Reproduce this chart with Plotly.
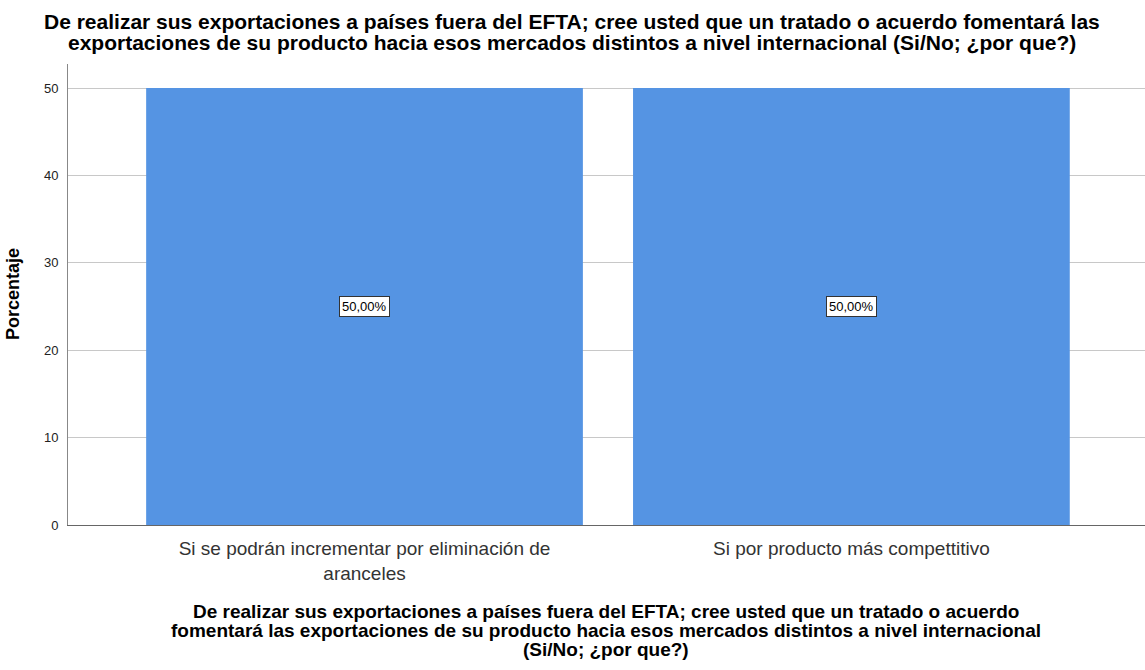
import plotly.graph_objects as go

categories = ["Si se podrán incrementar por eliminación de<br>aranceles",
              "Si por producto más compettitivo"]
values = [50.0, 50.0]
labels = ["50,00%", "50,00%"]
y_ticks = [0, 10, 20, 30, 40, 50]

title_lines = ["De realizar sus exportaciones a países fuera del EFTA; cree usted que un tratado o acuerdo fomentará las",
               "exportaciones de su producto hacia esos mercados distintos a nivel internacional (Si/No; ¿por que?)"]
xtitle_lines = ["De realizar sus exportaciones a países fuera del EFTA; cree usted que un tratado o acuerdo",
                "fomentará las exportaciones de su producto hacia esos mercados distintos a nivel internacional",
                "(Si/No; ¿por que?)"]

FONT = "Liberation Sans, Arial, sans-serif"
TOP, BOTTOM, LEFT, W = 64, 525, 68, 1145
PH = BOTTOM - TOP
PW = W - LEFT


def py(pix):
    return (BOTTOM - pix) / PH


def px(pix):
    return (pix - LEFT) / PW


fig = go.Figure()
fig.add_trace(go.Bar(
    x=categories, y=values, width=0.897,
    marker=dict(color="#5594E3", line=dict(width=0)),
    hoverinfo="skip",
))

for c, v, t in zip(categories, values, labels):
    fig.add_annotation(x=c, y=v / 2, text=t, showarrow=False,
                       font=dict(family=FONT, size=13, color="black"),
                       bgcolor="white", bordercolor="#333333", borderwidth=1, borderpad=2)

# chart title lines
for i, line in enumerate(title_lines):
    fig.add_annotation(xref="paper", yref="paper", x=px(572), y=py(21 + 22 * i),
                       xanchor="center", yanchor="middle", text=line, showarrow=False,
                       font=dict(family=FONT, size=21, color="black", weight="bold"))

# x-axis title lines
for i, line in enumerate(xtitle_lines):
    fig.add_annotation(xref="paper", yref="paper", x=px(606), y=py(611 + 19 * i),
                       xanchor="center", yanchor="middle", text=line, showarrow=False,
                       font=dict(family=FONT, size=19, color="black", weight="bold"))

# y-axis title
fig.add_annotation(xref="paper", yref="paper", x=px(13), y=py(294), textangle=-90,
                   xanchor="center", yanchor="middle", text="Porcentaje", showarrow=False,
                   font=dict(family=FONT, size=18, color="black", weight="bold"))

fig.update_layout(
    width=1145, height=670,
    paper_bgcolor="white", plot_bgcolor="white",
    margin=dict(l=LEFT, r=0, t=TOP, b=670 - BOTTOM, autoexpand=False),
    showlegend=False,
    font=dict(family=FONT, color="#222222"),
)
fig.update_xaxes(
    range=[-0.609, 1.603], automargin=False,
    showline=True, linecolor="#666666", linewidth=1,
    tickfont=dict(size=19, color="#333333"),
    ticks="outside", ticklen=6, tickcolor="rgba(0,0,0,0)", showgrid=False,
)
fig.update_yaxes(
    range=[0, 52.75], tickvals=y_ticks, automargin=False,
    showline=True, linecolor="#888888", linewidth=1,
    showgrid=True, gridcolor="#c8c8c8", gridwidth=1,
    ticks="outside", ticklen=6, tickcolor="rgba(0,0,0,0)",
    tickfont=dict(size=13, color="#222222"),
    zeroline=False,
)

fig.write_html("out.html", config={"displayModeBar": False},
               post_script="document.body.style.margin='0px';")
